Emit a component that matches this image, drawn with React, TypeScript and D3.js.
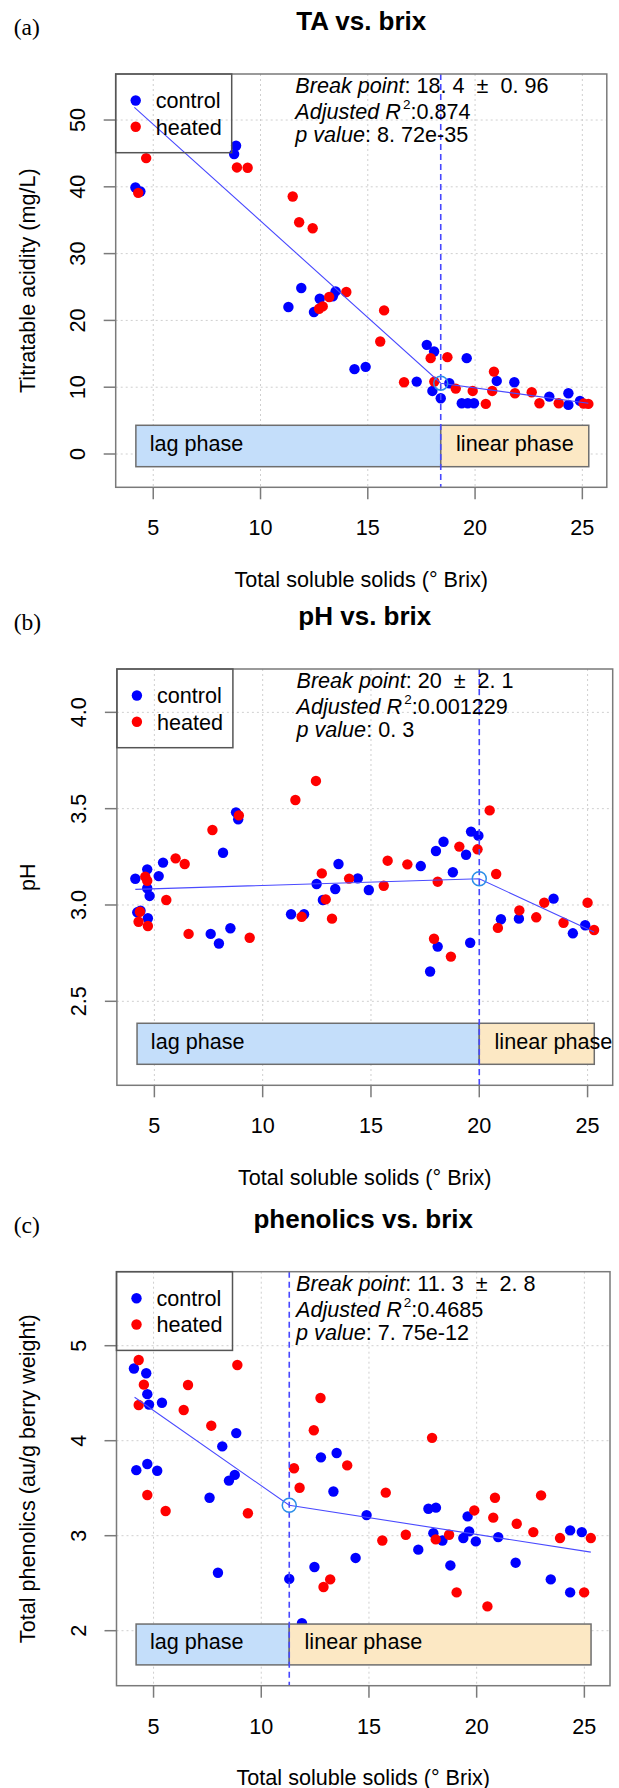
import React from 'react';
import * as d3 from 'd3';

// ---------------- DATA ----------------
const xTicks = [5, 10, 15, 20, 25];

// (a) TA vs brix
const taCtrlX = [4.17, 4.40, 8.77, 8.86, 11.30, 11.90, 12.49, 12.76, 13.37, 13.50, 14.38, 14.90, 17.28, 17.75, 18.01, 18.09, 18.40, 18.80, 19.38, 19.61, 19.66, 19.95, 21.01, 21.83, 23.46, 24.35, 24.35, 24.89];
const taCtrlY = [39.9, 39.3, 44.9, 46.15, 22.0, 24.85, 21.25, 23.25, 23.6, 24.35, 12.7, 13.05, 10.84, 16.34, 9.44, 15.34, 8.35, 10.6, 7.6, 14.35, 7.6, 7.6, 10.94, 10.74, 8.59, 9.1, 7.35, 7.95];
const taHeatX = [4.30, 4.67, 8.90, 9.40, 11.50, 11.80, 12.43, 12.73, 12.90, 13.20, 14.00, 15.58, 15.76, 16.69, 17.93, 18.10, 18.71, 19.10, 19.89, 20.50, 20.80, 20.88, 21.86, 22.64, 23.00, 23.90, 25.06, 25.28];
const taHeatY = [39.1, 44.3, 42.9, 42.85, 38.55, 34.7, 33.8, 21.75, 22.1, 23.5, 24.25, 16.85, 21.5, 10.74, 14.35, 10.84, 14.5, 9.79, 9.44, 7.5, 9.44, 12.34, 9.1, 9.25, 7.6, 7.6, 7.55, 7.5];
const taYTicks = [0, 10, 20, 30, 40, 50];
const taFitX = [4.12, 18.4, 25.28];
const taFitY = [51.9, 10.6, 7.6];
const taPhaseX = [4.19, 18.4, 25.3];
const taPhaseY = [-1.9, 4.3];

// (b) pH vs brix
const phCtrlX = [4.12, 4.21, 4.36, 4.67, 4.67, 4.70, 4.78, 5.20, 5.40, 7.60, 7.98, 8.17, 8.51, 8.77, 8.87, 11.31, 11.91, 12.49, 12.78, 13.35, 13.50, 14.39, 14.90, 17.30, 17.73, 18.00, 18.08, 18.35, 18.78, 19.39, 19.58, 19.62, 19.96, 21.00, 21.83, 23.43, 24.32, 24.89];
const phCtrlY = [3.136, 2.962, 2.97, 3.185, 3.087, 2.931, 3.047, 3.15, 3.22, 2.85, 2.80, 3.271, 2.879, 3.481, 3.445, 2.952, 2.952, 3.109, 3.026, 3.083, 3.213, 3.138, 3.078, 3.202, 2.655, 3.28, 2.784, 3.328, 3.17, 3.261, 2.804, 3.381, 3.36, 2.926, 2.929, 3.033, 2.853, 2.895];
const phHeatX = [4.27, 4.33, 4.58, 4.67, 4.70, 5.55, 5.98, 6.40, 6.58, 7.68, 8.90, 9.40, 11.51, 11.80, 12.46, 12.73, 12.91, 13.20, 13.99, 15.59, 15.77, 16.68, 17.91, 18.08, 18.69, 19.08, 19.92, 20.48, 20.78, 20.86, 21.85, 22.63, 23.00, 23.89, 25.00, 25.30];
const phHeatY = [2.913, 2.965, 3.147, 3.126, 2.891, 3.026, 3.242, 3.213, 2.85, 3.389, 3.465, 2.83, 3.545, 2.939, 3.644, 3.164, 3.029, 2.929, 3.137, 3.10, 3.23, 3.211, 2.825, 3.121, 2.732, 3.303, 3.289, 3.491, 3.161, 2.881, 2.972, 2.936, 3.012, 2.908, 3.012, 2.87];
const phYTicks = [2.5, 3.0, 3.5, 4.0];
const phFitX = [4.12, 20.0, 25.3];
const phFitY = [3.081, 3.136, 2.86];
const phPhaseX = [4.2, 20.0, 25.31];
const phPhaseY = [2.173, 2.386];

// (c) phenolics vs brix
const phenCtrlX = [4.09, 4.20, 4.66, 4.71, 4.71, 4.79, 5.17, 5.39, 7.60, 7.99, 8.19, 8.50, 8.77, 8.84, 11.30, 11.89, 12.47, 12.77, 13.35, 13.50, 14.38, 14.89, 17.29, 17.76, 17.99, 18.11, 18.41, 18.78, 19.38, 19.58, 19.65, 19.96, 21.00, 21.81, 23.44, 24.34, 24.34, 24.88];
const phenCtrlY = [4.76, 3.69, 4.71, 4.49, 3.755, 4.38, 3.684, 4.40, 3.40, 2.61, 3.94, 3.58, 3.64, 4.08, 2.545, 2.08, 2.67, 3.825, 3.465, 3.87, 2.766, 3.217, 2.853, 3.284, 3.027, 3.295, 2.95, 2.687, 2.975, 3.203, 3.045, 2.94, 2.985, 2.716, 2.54, 3.056, 2.403, 3.038];
const phenHeatX = [4.31, 4.31, 4.55, 4.71, 5.56, 6.40, 6.60, 7.68, 8.89, 9.38, 11.52, 11.78, 12.44, 12.75, 12.89, 13.20, 13.99, 15.62, 15.78, 16.71, 17.93, 18.10, 18.72, 19.07, 19.89, 20.50, 20.77, 20.85, 21.86, 22.63, 22.99, 23.87, 24.99, 25.30];
const phenHeatY = [4.85, 4.376, 4.59, 3.428, 3.26, 4.323, 4.586, 4.158, 4.797, 3.236, 3.71, 3.505, 4.11, 4.45, 2.46, 2.54, 3.74, 2.95, 3.453, 3.01, 4.03, 2.961, 3.01, 2.403, 3.266, 2.256, 3.19, 3.40, 3.126, 3.038, 3.424, 2.975, 2.403, 2.975];
const phenYTicks = [2, 3, 4, 5];
const phenFitX = [4.12, 11.3, 25.3];
const phenFitY = [4.457, 3.32, 2.827];
const phenPhaseX = [4.19, 11.3, 25.31];
const phenPhaseY = [1.64, 2.07];

const titles = ['TA vs. brix', 'pH vs. brix', 'phenolics vs. brix'];
const tags = ['(a)', '(b)', '(c)'];
const yLabels = ['Titratable acidity (mg/L)', 'pH', 'Total phenolics (au/g berry weight)'];
const xLabel = 'Total soluble solids (° Brix)';
const seriesNames = ['control', 'heated'];
const NB = '\u00A0';
const breakTexts = [
  `:${NB}18.${NB}4${NB}${NB}\u00B1${NB}${NB}0.${NB}96`,
  `:${NB}20${NB}${NB}\u00B1${NB}${NB}2.${NB}1`,
  `:${NB}11.${NB}3${NB}${NB}\u00B1${NB}${NB}2.${NB}8`,
];
const r2Texts = [':0.874', ':0.001229', ':0.4685'];
const pTexts = [`:${NB}8.${NB}72e-35`, `:${NB}0.${NB}3`, `:${NB}7.${NB}75e-12`];
const phaseNames = ['lag phase', 'linear phase'];

// ---------------- LAYOUT / STYLE ----------------
const FONT = '"Liberation Sans", Arial, Helvetica, sans-serif';
const SERIF = '"Liberation Serif", "Times New Roman", serif';
const FS = 21.6;
const CTRL = '#0000FF';
const HEAT = '#FF0000';

const layouts = [
  { left: 115.7, right: 606.8, top: 74, bottom: 487.3, xDomain: [3.25, 26.14], yDomain: [-4.985, 56.89] },
  { left: 116.9, right: 612.7, top: 669, bottom: 1085.3, xDomain: [3.27, 26.16], yDomain: [2.064, 4.225] },
  { left: 116.5, right: 610, top: 1271.7, bottom: 1685.7, xDomain: [3.28, 26.19], yDomain: [1.421, 5.779] },
];

const panelData = [
  { cx: taCtrlX, cy: taCtrlY, hx: taHeatX, hy: taHeatY, yTicks: taYTicks, yFmt: (v: number) => String(v), fitX: taFitX, fitY: taFitY, phX: taPhaseX, phY: taPhaseY },
  { cx: phCtrlX, cy: phCtrlY, hx: phHeatX, hy: phHeatY, yTicks: phYTicks, yFmt: (v: number) => v.toFixed(1), fitX: phFitX, fitY: phFitY, phX: phPhaseX, phY: phPhaseY },
  { cx: phenCtrlX, cy: phenCtrlY, hx: phenHeatX, hy: phenHeatY, yTicks: phenYTicks, yFmt: (v: number) => String(v), fitX: phenFitX, fitY: phenFitY, phX: phenPhaseX, phY: phenPhaseY },
];

function Panel({ i }: { i: number }) {
  const L = layouts[i];
  const D = panelData[i];
  const x = d3.scaleLinear().domain(L.xDomain).range([L.left, L.right]);
  const y = d3.scaleLinear().domain(L.yDomain).range([L.bottom, L.top]);
  const line = d3.line<number>().x((_, k) => x(D.fitX[k])).y((v) => y(v));
  const bp = D.fitX[1];
  const midX = (L.left + L.right) / 2;
  const midY = (L.top + L.bottom) / 2;
  const gridStyle = { stroke: '#cfcfcf', strokeWidth: 1, strokeDasharray: '2,3' };
  const ctrl = D.cx.map((v, k) => [v, D.cy[k]]);
  const heat = D.hx.map((v, k) => [v, D.hy[k]]);
  const phaseFill = ['#C4DEFA', '#FCE8C4'];
  const phaseOff = [13.8, 15.3];
  const ry0 = y(D.phY[1]);
  const ry1 = y(D.phY[0]);
  return (
    <g>
      {/* tag and title */}
      <text x={13.8} y={L.top - 39} fontFamily={SERIF} fontSize={23.5} fill="#000">{tags[i]}</text>
      <text x={midX} y={L.top - 44} fontFamily={FONT} fontSize={26} fontWeight="bold" textAnchor="middle" fill="#000">{titles[i]}</text>
      {/* grid */}
      {xTicks.map((t) => (
        <line key={'gx' + t} x1={x(t)} x2={x(t)} y1={L.top} y2={L.bottom} style={gridStyle} />
      ))}
      {D.yTicks.map((t) => (
        <line key={'gy' + t} x1={L.left} x2={L.right} y1={y(t)} y2={y(t)} style={gridStyle} />
      ))}
      {/* points */}
      {ctrl.map((d, k) => (
        <circle key={'c' + k} cx={x(d[0])} cy={y(d[1])} r={5.2} fill={CTRL} />
      ))}
      {heat.map((d, k) => (
        <circle key={'h' + k} cx={x(d[0])} cy={y(d[1])} r={5.2} fill={HEAT} />
      ))}
      {/* phase rects */}
      {[0, 1].map((k) => (
        <rect key={'ph' + k} x={x(D.phX[k])} y={ry0} width={x(D.phX[k + 1]) - x(D.phX[k])} height={ry1 - ry0} fill={phaseFill[k]} stroke="#6e6e6e" strokeWidth={1.5} />
      ))}
      {[0, 1].map((k) => (
        <text key={'pt' + k} x={x(D.phX[k]) + phaseOff[k]} y={(ry0 + ry1) / 2 + 5} fontFamily={FONT} fontSize={FS} fill="#000">{phaseNames[k]}</text>
      ))}
      {/* fitted segmented line */}
      <path d={line(D.fitY) || ''} fill="none" stroke="#4a4aff" strokeWidth={1.1} />
      {/* break point */}
      <line x1={x(bp)} x2={x(bp)} y1={L.top} y2={L.bottom} stroke="#4747ff" strokeWidth={1.6} strokeDasharray="6,4" />
      <circle cx={x(bp)} cy={y(D.fitY[1])} r={7} fill="none" stroke="#2b8fe8" strokeWidth={1.5} />
      {/* box */}
      <rect x={L.left} y={L.top} width={L.right - L.left} height={L.bottom - L.top} fill="none" stroke="#7a7a7a" strokeWidth={1.5} />
      {/* x axis ticks */}
      {xTicks.map((t) => (
        <g key={'xt' + t}>
          <line x1={x(t)} x2={x(t)} y1={L.bottom} y2={L.bottom + 12} stroke="#7a7a7a" strokeWidth={1.5} />
          <text x={x(t)} y={L.bottom + 47.8} textAnchor="middle" fontFamily={FONT} fontSize={FS} fill="#000">{t}</text>
        </g>
      ))}
      {/* y axis ticks */}
      {D.yTicks.map((t) => (
        <g key={'yt' + t}>
          <line x1={L.left - 12} x2={L.left} y1={y(t)} y2={y(t)} stroke="#7a7a7a" strokeWidth={1.5} />
          <text transform={`translate(${L.left - 31},${y(t)}) rotate(-90)`} textAnchor="middle" fontFamily={FONT} fontSize={FS} fill="#000">{D.yFmt(t)}</text>
        </g>
      ))}
      {/* axis titles */}
      <text x={midX} y={L.bottom + 99.5} textAnchor="middle" fontFamily={FONT} fontSize={FS} fill="#000">{xLabel}</text>
      <text transform={`translate(35,${midY}) rotate(-90)`} textAnchor="middle" fontFamily={FONT} fontSize={FS} fill="#000">{yLabels[i]}</text>
      {/* legend */}
      <rect x={L.left} y={L.top} width={116} height={78.7} fill="none" stroke="#555" strokeWidth={1.5} />
      {[CTRL, HEAT].map((c, k) => (
        <g key={'lg' + k}>
          <circle cx={L.left + 20} cy={L.top + 26.5 + k * 26.3} r={5.2} fill={c} />
          <text x={L.left + 40} y={L.top + 34.3 + k * 26.3} fontFamily={FONT} fontSize={FS} fill="#000">{seriesNames[k]}</text>
        </g>
      ))}
      {/* annotation */}
      <g fontFamily={FONT} fontSize={FS} fill="#000">
        <text x={L.left + 179.6} y={L.top + 19.3}>
          <tspan fontStyle="italic">Break point</tspan>
          <tspan>{breakTexts[i]}</tspan>
        </text>
        <text x={L.left + 179.6} y={L.top + 44.8}>
          <tspan fontStyle="italic">Adjusted R</tspan>
          <tspan fontSize={13.5} dx={2} dy={-9.5}>2</tspan>
          <tspan dy={9.5}>{r2Texts[i]}</tspan>
        </text>
        <text x={L.left + 179.6} y={L.top + 67.8}>
          <tspan fontStyle="italic">p value</tspan>
          <tspan>{pTexts[i]}</tspan>
        </text>
      </g>
    </g>
  );
}

export default function App() {
  return (
    <svg width={619} height={1788} style={{ position: 'absolute', left: 0, top: 0, display: 'block', overflow: 'hidden', background: '#fff' }}>
      <rect x={0} y={0} width={619} height={1788} fill="#fff" />
      {[0, 1, 2].map((i) => (
        <Panel key={i} i={i} />
      ))}
    </svg>
  );
}
